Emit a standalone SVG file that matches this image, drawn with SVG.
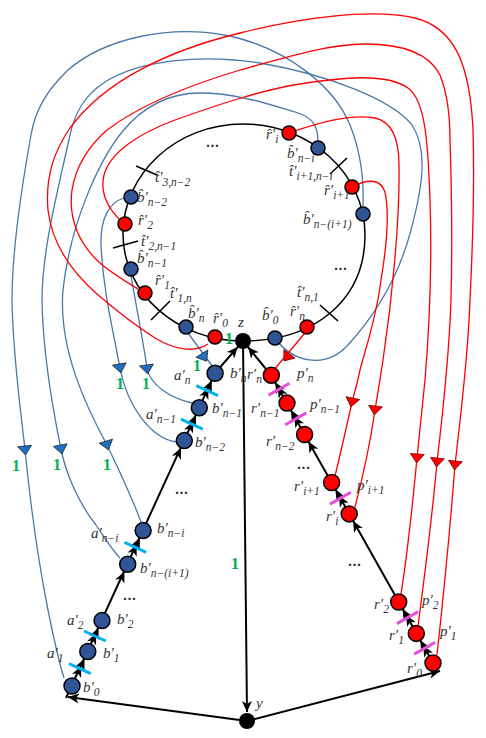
<svg xmlns="http://www.w3.org/2000/svg" width="486" height="738" viewBox="0 0 486 738">
<style>
.bl{fill:none;stroke:#4a78a8;stroke-width:1.3}
.rd{fill:none;stroke:#ff0000;stroke-width:1.3}
.k{fill:none;stroke:#000;stroke-width:2}
.bn{fill:#2f5597;stroke:#000;stroke-width:1.5}
.rn{fill:#ff0000;stroke:#000;stroke-width:1.5}
.kn{fill:#000}
.ct{stroke:#00b0f0;stroke-width:3}
.mt{stroke:#e84fd8;stroke-width:3}
.tk{stroke:#000;stroke-width:1.6}
text{font-family:"Liberation Serif","DejaVu Serif",serif}
.m{font-style:italic;font-size:15px;fill:#333}
.s{font-size:11.5px}
.d{font-size:14px;font-weight:bold;fill:#222;text-anchor:middle;letter-spacing:1px}
.g{font-weight:bold;font-size:16px;fill:#00b050;text-anchor:middle}
</style>
<defs>
<path id="ah" d="M0,0 L-11,-5 L-8,0 L-11,5 Z" fill="#000"/>
<path id="ab" d="M-7,-4 L7,-4 L0,5 Z" fill="#1f6fc5" stroke="#1a1a1a" stroke-width="0.7"/>
<path id="ar" d="M-7,-4 L7,-4 L0,5 Z" fill="#ff0000" stroke="#5a0000" stroke-width="0.7"/>
</defs>

<g id="connectors">
<path class="k" style="stroke-width:1.5" d="M243,124 C310.4,124 365,173.7 365,235 C365,299 316,341 243,341 C176.7,341 123,293.1 123,234 C123,173.2 176.7,124 243,124 Z"/>
<line class="tk" x1="136" y1="166" x2="157" y2="175"/>
<line class="tk" x1="113" y1="248" x2="138" y2="241"/>
<line class="tk" x1="151" y1="320" x2="170" y2="301"/>
<line class="tk" x1="320" y1="305" x2="338" y2="321"/>
<line class="tk" x1="330" y1="174" x2="347" y2="158"/>

<path class="bl" d="M188,333 L213,367"/>
<path class="bl" d="M131,276 C136,305 143,340 147,368 C150,385 170,398 192,403"/>
<path class="bl" d="M124,198 C110,202 100,218 101,245 C103,290 113,330 120,368 C127,405 150,438 176,442"/>
<path class="bl" d="M363,206 C364,180 360,150 350,125 C335,88 290,50 230,36 C170,24 105,38 68,70 C45,92 35,112 31,135 C22,185 12,250 12,300 C13,360 22,420 25,450 C30,500 38,560 48,610 C54,640 60,665 64,678"/>
<path class="bl" d="M275,338 C292,362 325,370 348,345 C378,312 400,272 411,230 C423,185 428,150 412,125 C392,100 330,75 260,63 C200,54 140,60 105,82 C85,95 75,112 70,135 C58,190 42,250 42,300 C43,360 55,420 61,449 C66,475 80,505 96,525 C105,538 112,550 120,558"/>
<path class="bl" d="M318,141 C318,125 312,117 295,112 C265,103 235,93 200,93 C165,93 140,110 122,132 C98,162 70,225 63,290 C58,350 88,410 107,445 C118,468 133,500 141,522"/>

<path class="rd" d="M305,333 L273,371"/>
<path class="rd" d="M289,133 C320,122 350,114 375,118 C393,122 399,140 399,165 C400,220 392,300 383,360 C380,380 377,398 375,410 C370,445 362,480 355,507"/>
<path class="rd" d="M352,187 C365,180 380,177 385,192 C390,215 386,250 381,280 C376,320 365,350 360,370 C357,385 354,395 352,402 C346,430 340,455 335,476"/>
<path class="rd" d="M120,220 C108,208 100,192 104,175 C110,152 140,133 175,120 C220,104 262,90 300,84 C340,78 385,72 408,88 C425,100 428,140 430,200 C432,260 430,320 425,380 C422,410 419,440 417,458 C413,500 408,550 401,594"/>
<path class="rd" d="M138,289 C125,281 110,272 100,263 C80,245 68,220 72,190 C76,165 90,145 107,130 C140,105 190,85 240,70 C290,56 330,44 365,44 C405,44 430,55 440,75 C448,95 450,115 450,140 C452,200 452,260 451,300 C449,360 442,420 437,462 C432,520 424,580 418,626"/>
<path class="rd" d="M208,344 C195,353 175,350 155,338 C130,322 112,307 97,294 C72,272 52,245 48,210 C45,175 55,150 70,128 C105,80 170,50 240,33 C300,18 370,8 415,18 C455,28 470,65 473,130 C475,200 472,260 470,300 C468,360 460,420 455,465 C450,530 443,600 437,655"/>

<use href="#ab" transform="translate(120,368) rotate(-10)"/>
<use href="#ab" transform="translate(147,369) rotate(-8)"/>
<use href="#ab" transform="translate(204,357) rotate(-32)"/>
<use href="#ab" transform="translate(25,450) rotate(-6)"/>
<use href="#ab" transform="translate(61,449) rotate(-11)"/>
<use href="#ab" transform="translate(107,445) rotate(-17)"/>
<use href="#ar" transform="translate(287,357) rotate(37)"/>
<use href="#ar" transform="translate(352,402) rotate(12)"/>
<use href="#ar" transform="translate(375,410) rotate(7)"/>
<use href="#ar" transform="translate(417,458) rotate(4)"/>
<use href="#ar" transform="translate(437,462) rotate(6)"/>
<use href="#ar" transform="translate(455,465) rotate(6)"/>

<path class="k" d="M66,698 L215,373 L243,341"/>
<path class="k" d="M436,668 L271,375 L243,341"/>
<path class="k" d="M243,341 L247,712"/>
<path class="k" d="M247,721 L68,697"/>
<path class="k" d="M247,721 L440,671"/>
<use href="#ah" transform="translate(237.7,347) rotate(-48.8)"/>
<use href="#ah" transform="translate(248,347) rotate(-129.5)"/>
<use href="#ah" transform="translate(247,712) rotate(89.4)"/>
<use href="#ah" transform="translate(68,697) rotate(-172.4)"/>
<use href="#ah" transform="translate(440,671) rotate(-14.5)"/>
<use href="#ah" transform="translate(81.2,666) rotate(-65.4)"/>
<use href="#ah" transform="translate(84.5,658.7) rotate(-65.4)"/>
<use href="#ah" transform="translate(96.1,633.3) rotate(-65.4)"/>
<use href="#ah" transform="translate(98.6,627.8) rotate(-65.4)"/>
<use href="#ah" transform="translate(124.4,571.5) rotate(-65.4)"/>
<use href="#ah" transform="translate(136.7,544.7) rotate(-65.4)"/>
<use href="#ah" transform="translate(139.8,537.8) rotate(-65.4)"/>
<use href="#ah" transform="translate(181,447.8) rotate(-65.4)"/>
<use href="#ah" transform="translate(193.1,421.5) rotate(-65.4)"/>
<use href="#ah" transform="translate(196,415.1) rotate(-65.4)"/>
<use href="#ah" transform="translate(208.4,387.8) rotate(-65.4)"/>
<use href="#ah" transform="translate(211.8,380.6) rotate(-65.4)"/>
<use href="#ah" transform="translate(423.2,645.6) rotate(-119.3)"/>
<use href="#ah" transform="translate(420.3,640.3) rotate(-119.3)"/>
<use href="#ah" transform="translate(406.1,615) rotate(-119.3)"/>
<use href="#ah" transform="translate(402.6,608.9) rotate(-119.3)"/>
<use href="#ah" transform="translate(353.1,520.9) rotate(-119.3)"/>
<use href="#ah" transform="translate(338.9,495.6) rotate(-119.3)"/>
<use href="#ah" transform="translate(335.5,489.5) rotate(-119.3)"/>
<use href="#ah" transform="translate(308.5,441.5) rotate(-119.3)"/>
<use href="#ah" transform="translate(294.3,416.2) rotate(-119.3)"/>
<use href="#ah" transform="translate(290.9,410.1) rotate(-119.3)"/>
<use href="#ah" transform="translate(277.7,386.6) rotate(-119.3)"/>
<use href="#ah" transform="translate(275.2,382.2) rotate(-119.3)"/>

<line class="ct" x1="196.3" y1="385.6" x2="218.1" y2="395.6"/>
<line class="ct" x1="180.9" y1="419.2" x2="202.7" y2="429.2"/>
<line class="ct" x1="124.5" y1="542.4" x2="146.3" y2="552.4"/>
<line class="ct" x1="84" y1="631" x2="105.8" y2="641"/>
<line class="ct" x1="69" y1="663.7" x2="90.8" y2="673.7"/>
<line class="mt" x1="268.6" y1="395.1" x2="289.6" y2="383.3"/>
<line class="mt" x1="285.3" y1="424.7" x2="306.3" y2="412.9"/>
<line class="mt" x1="329.9" y1="504.1" x2="350.9" y2="492.3"/>
<line class="mt" x1="397" y1="623.6" x2="418" y2="611.8"/>
<line class="mt" x1="414.2" y1="654.1" x2="435.2" y2="642.3"/>
</g>

<g id="hb_n-2"><circle class="bn" cx="131" cy="197" r="7"/><text class="m" x="137" y="202">b&#x302;′<tspan class="s" dy="4">n−2</tspan></text></g>
<g id="hr_2"><circle class="rn" cx="125" cy="224" r="7"/><text class="m" x="138" y="225">r&#x302;′<tspan class="s" dy="4">2</tspan></text></g>
<g id="hb_n-1"><circle class="bn" cx="131" cy="269" r="7"/><text class="m" x="137" y="263">b&#x302;′<tspan class="s" dy="4">n−1</tspan></text></g>
<g id="hr_1"><circle class="rn" cx="145" cy="293" r="7"/><text class="m" x="155" y="285">r&#x302;′<tspan class="s" dy="4">1</tspan></text></g>
<g id="hb_n"><circle class="bn" cx="186" cy="327" r="7"/><text class="m" x="188" y="318">b&#x302;′<tspan class="s" dy="4">n</tspan></text></g>
<g id="hr_0"><circle class="rn" cx="215" cy="337" r="7"/><text class="m" x="213" y="323">r&#x302;′<tspan class="s" dy="4">0</tspan></text></g>
<g id="z"><circle class="kn" cx="243" cy="341" r="8"/><text class="m" x="238" y="327">z</text></g>
<g id="hb_0"><circle class="bn" cx="275" cy="338" r="7"/><text class="m" x="262" y="320">b&#x302;′<tspan class="s" dy="4">0</tspan></text></g>
<g id="hr_n"><circle class="rn" cx="307" cy="327" r="7"/><text class="m" x="290" y="316">r&#x302;′<tspan class="s" dy="4">n</tspan></text></g>
<g id="hb_n-i1"><circle class="bn" cx="363" cy="214" r="7"/><text class="m" x="303" y="224">b&#x302;′<tspan class="s" dy="4">n−(i+1)</tspan></text></g>
<g id="hr_i1"><circle class="rn" cx="352" cy="187" r="7"/><text class="m" x="324" y="195">r&#x302;′<tspan class="s" dy="4">i+1</tspan></text></g>
<g id="hb_n-i"><circle class="bn" cx="318" cy="148" r="7"/><text class="m" x="287" y="158">b&#x302;′<tspan class="s" dy="4">n−i</tspan></text></g>
<g id="hr_i"><circle class="rn" cx="289" cy="133" r="7"/><text class="m" x="266" y="139">r&#x302;′<tspan class="s" dy="4">i</tspan></text></g>

<g id="t_3"><text class="m" x="155" y="182">t&#x302;′<tspan class="s" dy="4">3,n−2</tspan></text></g>
<g id="t_2"><text class="m" x="141" y="246">t&#x302;′<tspan class="s" dy="4">2,n−1</tspan></text></g>
<g id="t_1"><text class="m" x="170" y="298">t&#x302;′<tspan class="s" dy="4">1,n</tspan></text></g>
<g id="t_n"><text class="m" x="297" y="297">t&#x302;′<tspan class="s" dy="4">n,1</tspan></text></g>
<g id="t_i"><text class="m" x="289" y="176">t&#x302;′<tspan class="s" dy="4">i+1,n−i</tspan></text></g>
<text class="d" x="213" y="147">...</text>
<text class="d" x="341" y="270">...</text>

<g id="b_0"><circle class="bn" cx="72" cy="686" r="8"/><text class="m" x="83" y="692">b′<tspan class="s" dy="4">0</tspan></text></g>
<g id="b_1"><circle class="bn" cx="87.8" cy="651.5" r="8"/><text class="m" x="103" y="658">b′<tspan class="s" dy="4">1</tspan></text></g>
<g id="b_2"><circle class="bn" cx="102" cy="620.6" r="8"/><text class="m" x="117" y="624">b′<tspan class="s" dy="4">2</tspan></text></g>
<g id="b_n-i1"><circle class="bn" cx="127.7" cy="564.2" r="8"/><text class="m" x="140" y="573">b′<tspan class="s" dy="4">n−(i+1)</tspan></text></g>
<g id="b_n-i"><circle class="bn" cx="143.1" cy="530.6" r="8"/><text class="m" x="157" y="533">b′<tspan class="s" dy="4">n−i</tspan></text></g>
<g id="b_n-2"><circle class="bn" cx="184.3" cy="440.6" r="8"/><text class="m" x="195" y="447">b′<tspan class="s" dy="4">n−2</tspan></text></g>
<g id="b_n-1"><circle class="bn" cx="199.3" cy="407.8" r="8"/><text class="m" x="212" y="413">b′<tspan class="s" dy="4">n−1</tspan></text></g>
<g id="b_n"><circle class="bn" cx="215.1" cy="373.3" r="8"/><text class="m" x="230" y="378">b′<tspan class="s" dy="4">n</tspan></text></g>
<g id="a_labels">
<text class="m" x="174" y="380">a′<tspan class="s" dy="4">n</tspan></text>
<text class="m" x="146" y="419">a′<tspan class="s" dy="4">n−1</tspan></text>
<text class="m" x="91" y="538">a′<tspan class="s" dy="4">n−i</tspan></text>
<text class="m" x="67" y="625">a′<tspan class="s" dy="4">2</tspan></text>
<text class="m" x="47" y="658">a′<tspan class="s" dy="4">1</tspan></text>
</g>
<text class="d" x="182" y="494">...</text>
<text class="d" x="130" y="600">...</text>

<g id="r_0"><circle class="rn" cx="433" cy="663" r="8"/><text class="m" x="407" y="673">r′<tspan class="s" dy="4">0</tspan></text></g>
<g id="r_1"><circle class="rn" cx="416.3" cy="633.4" r="8"/><text class="m" x="389" y="640">r′<tspan class="s" dy="4">1</tspan></text></g>
<g id="r_2"><circle class="rn" cx="398.7" cy="602" r="8"/><text class="m" x="374" y="609">r′<tspan class="s" dy="4">2</tspan></text></g>
<g id="r_i"><circle class="rn" cx="349.2" cy="513.9" r="8"/><text class="m" x="326" y="521">r′<tspan class="s" dy="4">i</tspan></text></g>
<g id="r_i1"><circle class="rn" cx="331.6" cy="482.5" r="8"/><text class="m" x="294" y="491">r′<tspan class="s" dy="4">i+1</tspan></text></g>
<g id="r_n-2"><circle class="rn" cx="304.6" cy="434.5" r="8"/><text class="m" x="266" y="446">r′<tspan class="s" dy="4">n−2</tspan></text></g>
<g id="r_n-1"><circle class="rn" cx="287" cy="403.1" r="8"/><text class="m" x="251" y="413">r′<tspan class="s" dy="4">n−1</tspan></text></g>
<g id="r_n"><circle class="rn" cx="271.3" cy="375.2" r="8"/><text class="m" x="247" y="379">r′<tspan class="s" dy="4">n</tspan></text></g>
<g id="p_labels">
<text class="m" x="297" y="378">p′<tspan class="s" dy="4">n</tspan></text>
<text class="m" x="310" y="409">p′<tspan class="s" dy="4">n−1</tspan></text>
<text class="m" x="357" y="490">p′<tspan class="s" dy="4">i+1</tspan></text>
<text class="m" x="422" y="605">p′<tspan class="s" dy="4">2</tspan></text>
<text class="m" x="440" y="636">p′<tspan class="s" dy="4">1</tspan></text>
</g>
<text class="d" x="304" y="469">...</text>
<text class="d" x="355" y="566">...</text>

<g id="y"><circle class="kn" cx="247" cy="721" r="8"/><text class="m" x="256" y="708">y</text></g>

<g id="weights">
<text class="g" x="120" y="389">1</text>
<text class="g" x="146" y="389">1</text>
<text class="g" x="197" y="371">1</text>
<text class="g" x="229" y="344">1</text>
<text class="g" x="16" y="471">1</text>
<text class="g" x="57" y="470">1</text>
<text class="g" x="107" y="470">1</text>
<text class="g" x="235" y="569">1</text>
</g>
</svg>
